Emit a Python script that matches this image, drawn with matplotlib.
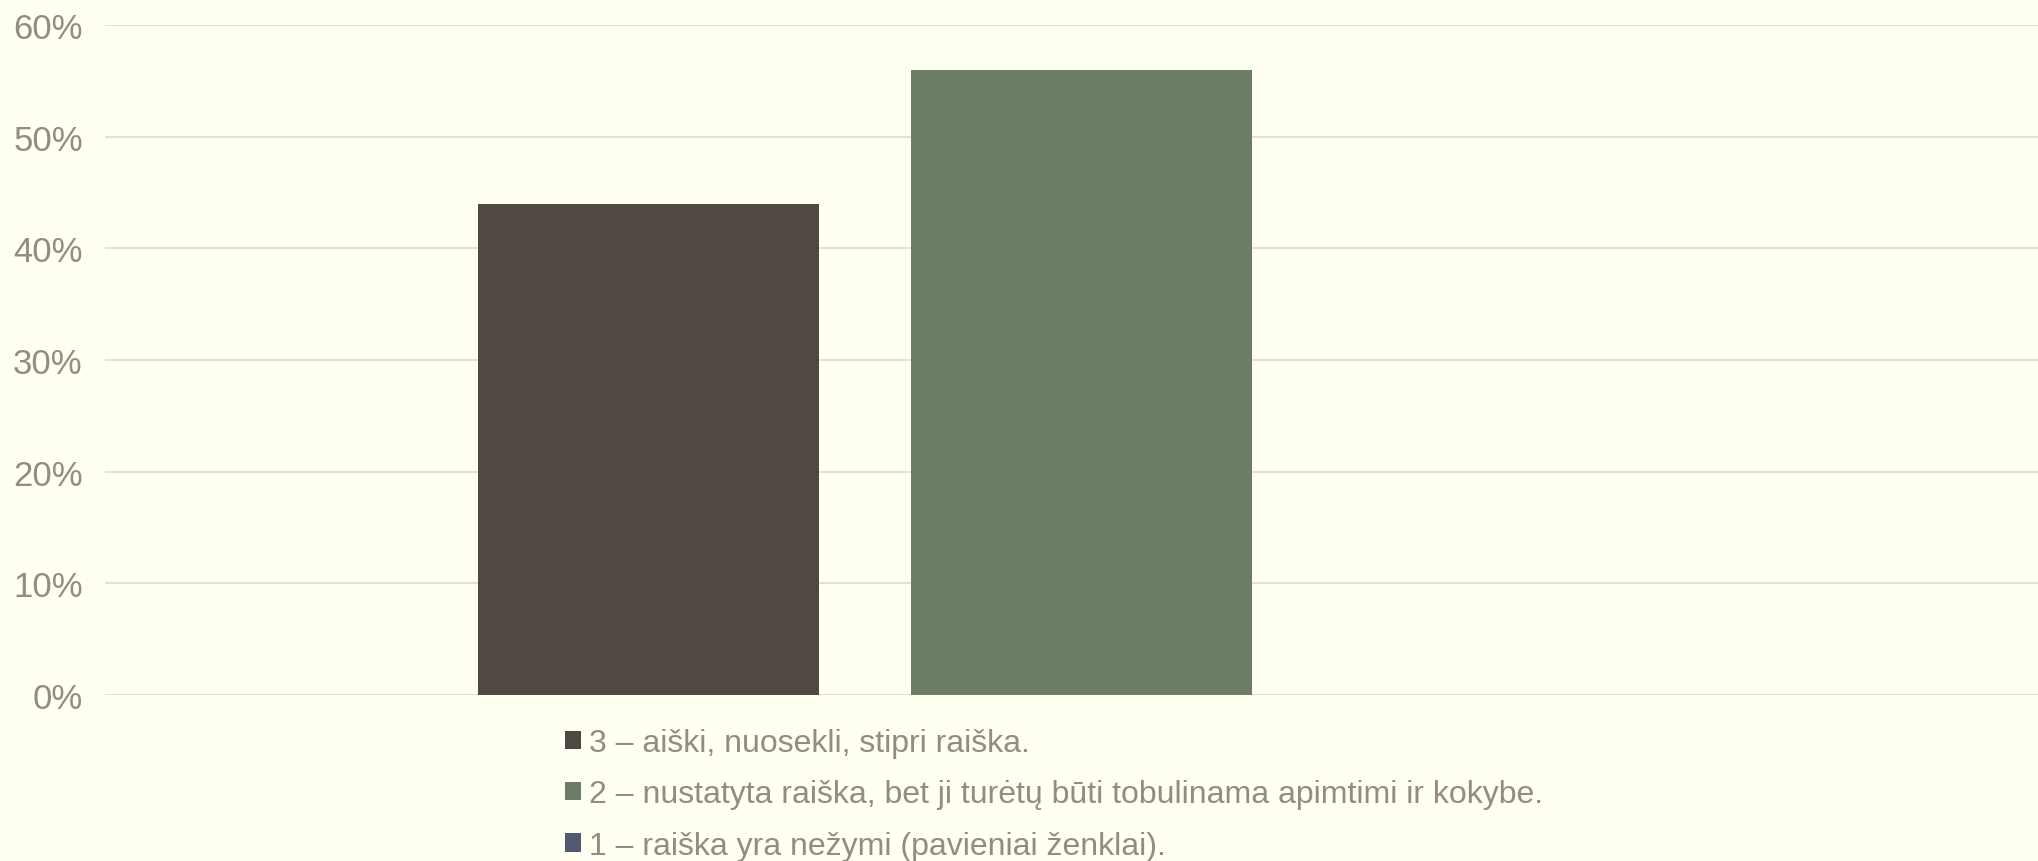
import matplotlib
matplotlib.use("Agg")
import matplotlib.pyplot as plt
from matplotlib.ticker import PercentFormatter, MultipleLocator

# %% DATA
category = ["Raiška"]
series_labels = [
    "3 – aiški, nuosekli, stipri raiška.",
    "2 – nustatyta raiška, bet ji turėtų būti tobulinama apimtimi ir kokybe.",
    "1 – raiška yra nežymi (pavieniai ženklai).",
]
series_values = [0.44, 0.56, 0.0]
series_colors = ["#504842", "#6D7C64", "#525A72"]

# %% STYLE
bg = "#FFFFF2"
text_col = "#968A84"
grid_col = "#E2E2DC"
plt.rcParams["font.family"] = ["Liberation Sans", "DejaVu Sans"]

# %% PLOT
fig = plt.figure(figsize=(20.38, 8.62), dpi=100, facecolor=bg)
ax = fig.add_axes([105 / 2038, 1 - 696 / 862, 1 - 105 / 2038, (696 - 26) / 862])
ax.set_facecolor(bg)

bar_w = 0.1764
step = 0.224
centre = 0.005
for i, (lab, val, col) in enumerate(zip(series_labels, series_values, series_colors)):
    ax.bar(centre + (i - 1) * step, val, width=bar_w, color=col, label=lab, zorder=3)

ax.set_xlim(-0.5, 0.5)
ax.set_ylim(0, 0.6)
ax.yaxis.set_major_locator(MultipleLocator(0.1))
ax.yaxis.set_major_formatter(PercentFormatter(1.0, decimals=0))
ax.grid(axis="y", color=grid_col, linewidth=1.5, zorder=0)
ax.set_xticks([])
ax.tick_params(axis="y", length=0, pad=16, labelsize=25, labelcolor=text_col)
for s in ax.spines.values():
    s.set_visible(False)

leg = fig.legend(loc="upper left", bbox_to_anchor=(565 / 2038, 1 - 729 / 862),
                 frameon=False, fontsize=23, handlelength=0.5, handleheight=0.5,
                 handletextpad=0.25, labelspacing=0.67, borderpad=0, borderaxespad=0)
for t in leg.get_texts():
    t.set_color(text_col)

fig.savefig("out.png", dpi=100, facecolor=bg)
